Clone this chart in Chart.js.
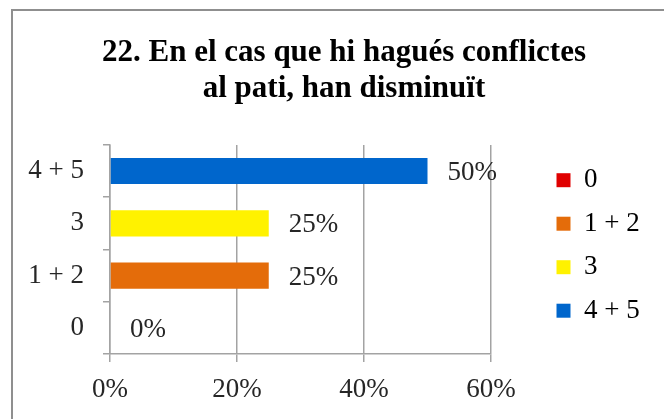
<!DOCTYPE html>
<html lang="ca">
<head>
  <meta charset="UTF-8" />
  <title>22. En el cas que hi hagués conflictes al pati, han disminuït</title>
  <script src="https://cdn.jsdelivr.net/npm/chart.js"></script>
  <style>
    html, body {
      margin: 0;
      padding: 0;
      background: #fff;
      overflow: hidden;
    }
    .frame {
      position: absolute;
      left: 11px;
      top: 9px;
      width: 700px;
      height: 500px;
      border: 2px solid #8f8f8f;
    }
    #chart {
      position: absolute;
      left: 0;
      top: 0;
    }
  </style>
</head>
<body>
  <div class="frame"></div>
  <canvas id="chart" width="664" height="419"></canvas>

  <script>
    const categories = ['0', '1 + 2', '3', '4 + 5'];
    const percentages = [0, 25, 25, 50];
    const xTicks = [0, 20, 40, 60];
    const barColors = ['#e00000', '#e46c0a', '#fff200', '#0066cc'];

    const serif = '"Liberation Serif", "DejaVu Serif", serif';
    const gridGrey = '#a3a3a3';

    // percent labels to the right of each bar
    const pctLabels = {
      id: 'pctLabels',
      afterDatasetsDraw(chart) {
        const ctx = chart.ctx;
        const meta = chart.getDatasetMeta(0);
        ctx.save();
        ctx.font = '27px ' + serif;
        ctx.fillStyle = '#262626';
        ctx.textAlign = 'left';
        ctx.textBaseline = 'middle';
        meta.data.forEach((bar, i) => {
          ctx.fillText(percentages[i] + '%', bar.x + 20, bar.y + 2);
        });
        ctx.restore();
      }
    };

    // keep the legend wide so the plot stops at the 60% line, then nudge it
    const legendSpot = {
      id: 'legendSpot',
      afterInit(chart) {
        const lg = chart.legend;
        const fit = lg.fit.bind(lg);
        lg.fit = function () {
          fit();
          lg.width = 173;
        };
      },
      afterLayout(chart) {
        const lg = chart.legend;
        lg.left += 49;
        lg.right += 49;
        lg.top -= 4;
        lg.bottom -= 4;
      }
    };

    new Chart(document.getElementById('chart').getContext('2d'), {
      type: 'bar',
      data: {
        labels: categories,
        datasets: [{
          data: percentages,
          backgroundColor: barColors,
          borderWidth: 0,
          barPercentage: 0.5,
          categoryPercentage: 1
        }]
      },
      options: {
        indexAxis: 'y',
        responsive: false,
        animation: false,
        devicePixelRatio: 1,
        layout: {
          padding: { left: 24, right: 0, top: 0, bottom: 0 }
        },
        scales: {
          x: {
            min: 0,
            max: 60,
            afterBuildTicks: s => { s.ticks = xTicks.map(v => ({ value: v })); },
            afterFit: s => { s.height = 65; },
            ticks: {
              callback: v => v + '%',
              color: '#262626',
              font: { family: serif, size: 27 },
              padding: 12,
              maxRotation: 0
            },
            grid: {
              color: gridGrey,
              lineWidth: 1.5,
              tickLength: 8,
              drawOnChartArea: true
            },
            border: { color: gridGrey, width: 1.5 }
          },
          y: {
            reverse: true,
            afterFit: s => { s.width = 86; },
            ticks: {
              color: '#262626',
              font: { family: serif, size: 27 },
              padding: 19
            },
            grid: {
              color: gridGrey,
              lineWidth: 1.5,
              tickLength: 7,
              drawOnChartArea: false,
              offset: true
            },
            border: { color: gridGrey, width: 1.5 }
          }
        },
        plugins: {
          title: {
            display: true,
            text: ['22. En el cas que hi hagués conflictes', 'al pati, han disminuït'],
            color: '#000',
            font: { family: serif, size: 31, weight: 'bold', lineHeight: 1.16 },
            padding: { top: 35, bottom: 38 }
          },
          legend: {
            position: 'right',
            fullSize: false,
            labels: {
              color: '#262626',
              font: { family: serif, size: 27 },
              boxWidth: 14,
              boxHeight: 14,
              padding: 16.5,
              generateLabels: chart => categories.map((c, i) => ({
                text: c,
                fillStyle: barColors[i],
                strokeStyle: barColors[i],
                lineWidth: 0,
                index: i
              }))
            }
          },
          tooltip: { enabled: false }
        }
      },
      plugins: [pctLabels, legendSpot]
    });
  </script>
</body>
</html>
